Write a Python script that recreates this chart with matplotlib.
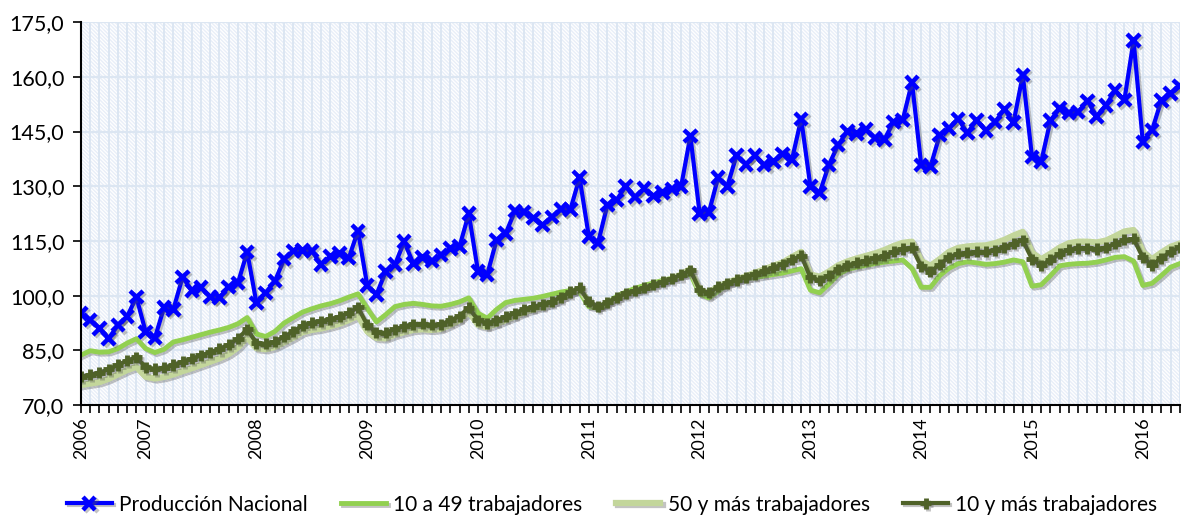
import matplotlib
matplotlib.use("Agg")
import matplotlib.pyplot as plt
import matplotlib.patheffects as pe
from matplotlib.patches import Rectangle
import numpy as np

plt.rcParams['font.family'] = ['Lato', 'DejaVu Sans']
plt.rcParams['hatch.linewidth'] = 1.0

# Monthly series, June 2006 - May 2016
start_year, start_month = 2006, 6

produccion_nacional = [
    95.1, 93.3, 91.0, 88.3, 91.9, 94.3, 99.6,
    90.1, 88.4, 96.8, 96.2, 105.1, 101.4, 102.3, 99.7, 99.5, 102.4, 103.5, 112.0,
    98.0, 100.8, 104.0, 110.0, 112.3, 112.4, 112.2, 108.6, 110.8, 111.5, 110.3, 117.8,
    102.8, 100.3, 106.6, 108.5, 114.8, 108.8, 110.5, 109.5, 111.2, 113.0, 113.5, 122.5,
    106.6, 105.8, 115.2, 117.1, 123.2, 123.0, 121.3, 119.4, 121.6, 123.7, 123.6, 132.4,
    116.2, 114.5, 124.8, 126.2, 130.0, 127.0, 129.4, 127.3, 128.3, 129.3, 130.0, 143.8,
    122.6, 122.8, 132.4, 130.0, 138.5, 136.0, 138.5, 135.9, 136.8, 138.8, 137.3, 148.5,
    129.9, 128.2, 135.9, 141.3, 145.0, 144.5, 145.6, 143.2, 142.8, 147.6, 148.2, 158.5,
    135.8, 135.4, 144.0, 145.9, 148.5, 144.6, 148.1, 145.3, 147.6, 151.1, 147.5, 160.5,
    138.0, 136.8, 148.1, 151.3, 150.1, 150.4, 153.4, 149.2, 152.2, 156.2, 153.6, 170.0,
    142.2, 145.4, 153.5, 155.5, 157.5,
]

trab_10_49 = [
    83.7, 84.9, 84.5, 84.6, 85.5, 87.0, 88.2,
    85.5, 84.4, 85.3, 87.3, 87.9, 88.6, 89.3, 90.0, 90.6, 91.3, 92.3, 94.0,
    89.5, 88.8, 90.2, 92.5, 94.0, 95.5, 96.4, 97.2, 97.8, 98.6, 99.6, 100.5,
    96.5, 92.8, 94.8, 97.0, 97.6, 97.9, 97.6, 97.2, 97.1, 97.6, 98.3, 99.4,
    95.2, 93.8, 96.2, 98.1, 98.7, 99.0, 99.3, 99.8, 100.4, 101.0, 101.4, 101.0,
    97.0, 96.5, 98.0, 99.8, 101.0, 102.0, 102.8, 103.5, 104.2, 104.8, 105.5, 106.0,
    100.5, 99.4, 101.2, 103.0, 104.0, 104.6, 105.0, 105.4, 105.8, 106.2, 106.8, 107.4,
    101.5, 100.8, 103.2, 105.8, 107.2, 107.8, 108.3, 108.8, 109.2, 109.5, 109.8, 107.5,
    102.3, 102.3, 105.5, 107.5, 108.8, 109.3, 109.0, 108.6, 108.8, 109.2, 109.8, 109.3,
    102.6, 103.0, 105.5, 108.2, 108.6, 108.8, 108.9, 109.2, 109.8, 110.5, 110.7, 109.5,
    102.8, 103.4, 105.5, 107.8, 108.8,
]

trab_50_mas = [
    75.5, 75.9, 76.3, 77.2, 78.4, 79.6, 80.5,
    77.8, 77.3, 77.7, 78.4, 79.3, 80.1, 81.0, 81.9, 82.8, 84.0, 85.8, 88.6,
    85.6, 85.3, 85.9, 87.2, 88.5, 90.0, 90.6, 91.0, 91.6, 92.3, 93.3, 94.5,
    90.2, 88.4, 88.3, 89.3, 90.0, 90.6, 90.8, 90.6, 90.9, 92.0, 93.3, 95.6,
    92.0, 91.4, 92.3, 93.3, 94.3, 95.5, 96.3, 97.0, 97.9, 99.2, 100.7, 102.0,
    98.0, 96.8, 97.9, 99.1, 100.4, 101.2, 102.0, 102.9, 103.7, 104.7, 105.8, 107.3,
    101.4, 100.8, 102.5, 103.6, 104.5, 105.3, 106.3, 107.2, 108.2, 109.1, 110.6, 112.0,
    105.8, 105.2, 106.6, 108.3, 109.4, 110.2, 110.9, 111.6, 112.5, 113.6, 114.5, 114.8,
    109.5, 108.2, 110.0, 112.0, 113.1, 113.5, 113.7, 113.8, 114.4, 115.3, 116.5, 117.5,
    111.8, 110.0, 111.5, 113.2, 114.4, 114.8, 114.8, 114.6, 115.1, 116.3, 117.6, 118.0,
    112.0, 110.0, 111.8, 113.4, 114.3,
]

trab_10_mas = [
    77.8, 78.3, 78.9, 79.8, 81.0, 82.2, 83.1,
    80.4, 79.9, 80.3, 81.0, 81.9, 82.7, 83.6, 84.5, 85.4, 86.6, 88.2, 90.8,
    87.0, 86.8, 87.4, 88.8, 90.2, 91.8, 92.6, 93.0, 93.6, 94.2, 95.3, 96.8,
    92.0, 89.9, 89.8, 90.8, 91.6, 92.2, 92.3, 92.0, 92.2, 93.2, 94.4, 96.7,
    93.3, 92.4, 93.3, 94.2, 95.2, 96.3, 97.0, 97.6, 98.4, 99.6, 101.0, 102.2,
    98.3, 97.0, 98.2, 99.4, 100.6, 101.4, 102.2, 103.0, 103.8, 104.7, 105.7, 107.0,
    101.5, 100.8, 102.4, 103.4, 104.3, 105.0, 105.9, 106.8, 107.7, 108.6, 109.8, 111.0,
    105.0, 104.2, 105.5, 107.2, 108.3, 109.0, 109.6, 110.2, 111.0, 112.0, 112.8, 113.2,
    108.0, 106.6, 108.5, 110.5, 111.5, 111.8, 112.0, 112.0, 112.5, 113.3, 114.3, 115.2,
    110.0, 108.3, 109.8, 111.5, 112.6, 113.0, 113.0, 112.8, 113.2, 114.2, 115.3, 115.6,
    110.5, 108.4, 110.3, 112.0, 113.3,
]

series_labels = ["Producción Nacional", "10 a 49 trabajadores",
                 "50 y más trabajadores", "10 y más trabajadores"]
y_ticks = [70, 85, 100, 115, 130, 145, 160, 175]

n = len(produccion_nacional)
x = np.arange(n)
months = [(start_month - 1 + i) % 12 + 1 for i in range(n)]
years = [start_year + (start_month - 1 + i) // 12 for i in range(n)]
label_pos = [i for i in range(n) if i == 0 or months[i] == 1]
label_txt = [str(years[i]) for i in label_pos]

fig = plt.figure(figsize=(11.84, 5.16), dpi=100)
ax = fig.add_axes([0.0684, 0.215, 0.928, 0.742])

grid_c = '#dce6f2'
# hatched background
bg = Rectangle((0, 0), 1, 1, transform=ax.transAxes, facecolor='white',
               edgecolor='#e8eef8', hatch='\\' * 9, linewidth=0, zorder=0)
ax.add_patch(bg)

ax.set_xlim(0, n - 1)
ax.set_ylim(70, 175)
ax.set_yticks(y_ticks)
ax.set_yticklabels([f"{v:.1f}".replace('.', ',') for v in y_ticks], fontsize=15.5)
ax.set_xticks(label_pos)
ax.set_xticklabels(label_txt, rotation=90, fontsize=13)
ax.set_xticks(x, minor=True)
ax.tick_params(axis='x', which='both', length=6, width=1.2, direction='out', pad=3)
ax.tick_params(axis='y', length=6, width=1.2, direction='out', pad=6)

for v in y_ticks[1:]:
    ax.axhline(v, color=grid_c, lw=1.6, zorder=1)
for i in x[1:]:
    ax.axvline(i, color=grid_c, lw=1.4, zorder=1)

for s in ['top', 'right']:
    ax.spines[s].set_visible(False)
for s in ['left', 'bottom']:
    ax.spines[s].set_linewidth(1.5)
    ax.spines[s].set_zorder(5)

shadow = [pe.SimpleLineShadow(offset=(1.5, -1.5), alpha=0.35, shadow_color='#555555'), pe.Normal()]

ax.plot(x, trab_10_49, color='#92d050', lw=3.5, label=series_labels[1], zorder=3,
        path_effects=shadow)
ax.plot(x, trab_50_mas, color='#c3d69b', lw=4.5, label=series_labels[2], zorder=3.1,
        path_effects=shadow)
ax.plot(x, trab_10_mas, color='#4f6228', lw=3, marker='+', ms=8, mew=3.5,
        label=series_labels[3], zorder=3.2, path_effects=shadow)
ax.plot(x, produccion_nacional, color='#0000ff', lw=3, marker='x', ms=9, mew=3.2,
        label=series_labels[0], zorder=4, path_effects=shadow)

handles, labels = ax.get_legend_handles_labels()
order = [3, 0, 1, 2]
leg = fig.legend([handles[i] for i in order], [labels[i] for i in order],
                 loc='center', bbox_to_anchor=(0.517, 0.022), ncol=4, frameon=False,
                 fontsize=15, handlelength=2.15, columnspacing=1.6, handletextpad=0.35)

fig.savefig("out.png", dpi=100)
